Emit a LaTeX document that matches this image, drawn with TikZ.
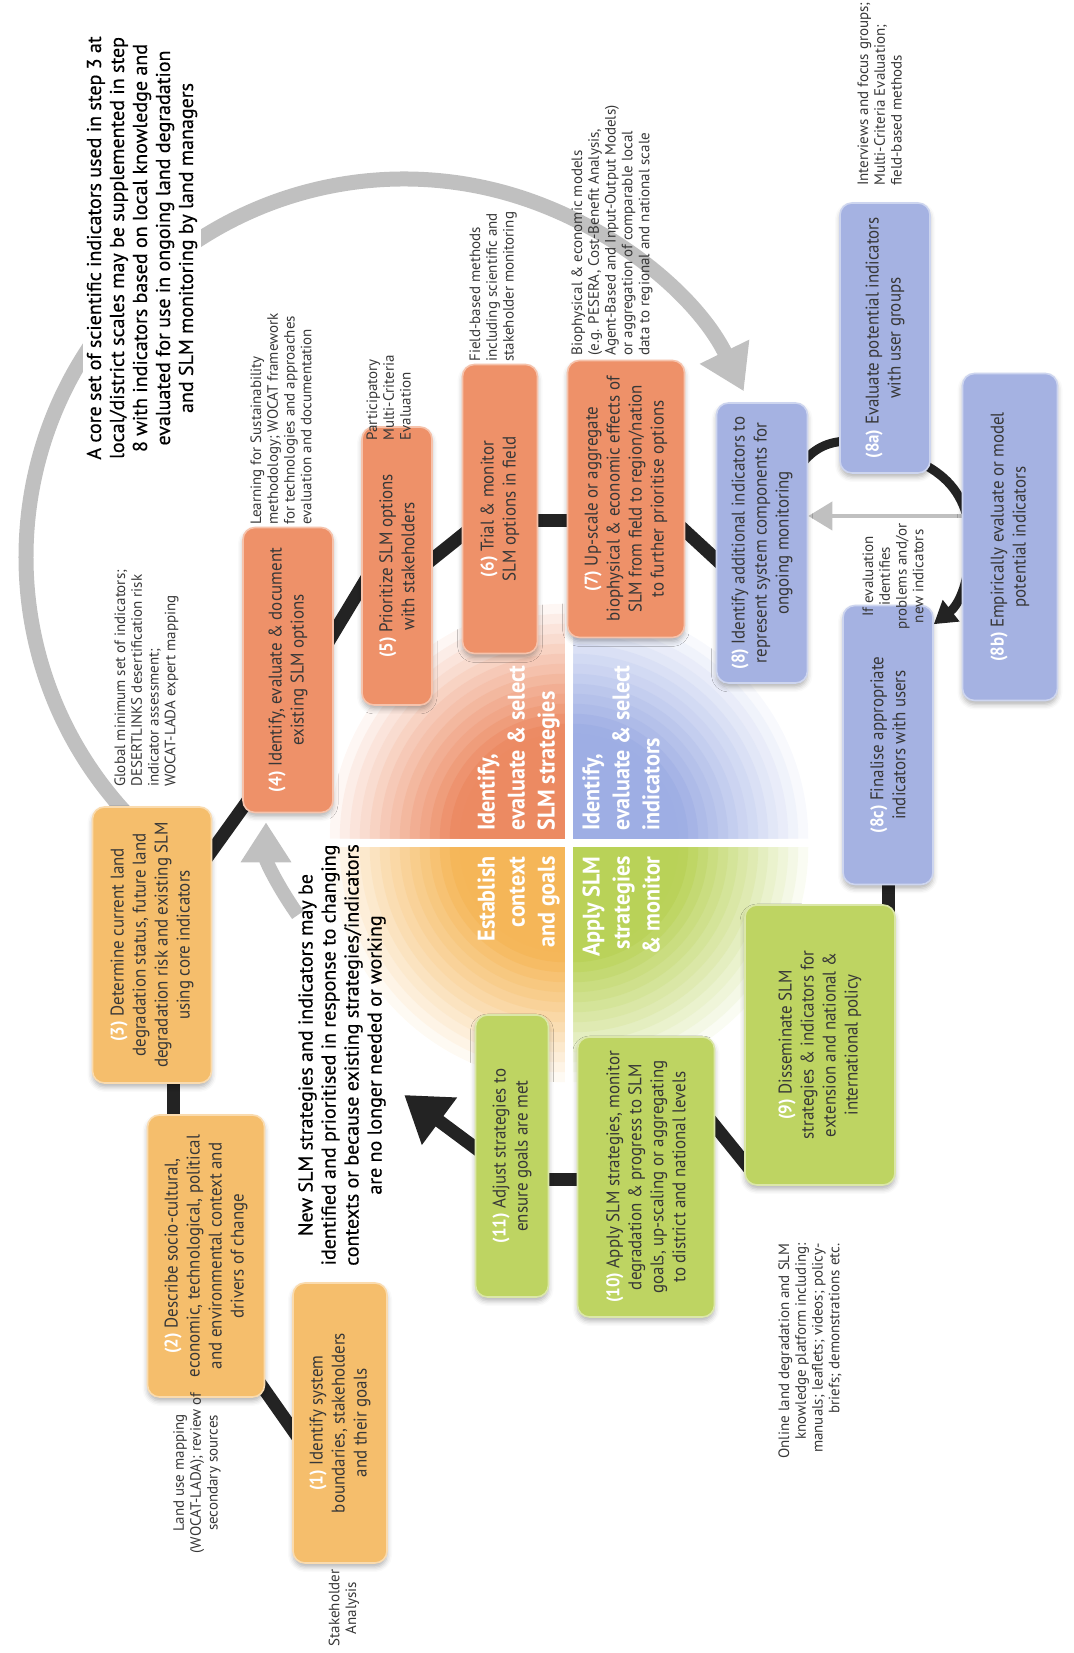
\documentclass[tikz,border=0pt]{standalone}
\usepackage{fontspec}
\setmainfont[FakeStretch=0.92]{PT Sans}
\newfontfamily\notefamily{PT Sans}
\newfontfamily\leadfamily[FakeBold=0.4]{PT Sans}
\usepackage{tikz}
\usetikzlibrary{calc, arrows.meta, backgrounds, shadows.blur}

\definecolor{boxorange}{RGB}{245,190,108}
\definecolor{boxsalmon}{RGB}{238,145,105}
\definecolor{boxblue}{RGB}{165,178,226}
\definecolor{boxgreen}{RGB}{190,212,98}
\definecolor{qorange}{RGB}{245,182,88}
\definecolor{qsalmon}{RGB}{236,138,98}
\definecolor{qblue}{RGB}{158,174,228}
\definecolor{qgreen}{RGB}{185,210,88}
\definecolor{ringblack}{RGB}{35,35,35}
\definecolor{arcgray}{RGB}{192,192,192}
\definecolor{txtgray}{RGB}{55,55,55}

\newcommand{\stepfont}{\fontsize{9.2}{11}\selectfont}
\newcommand{\notesize}{\notefamily\fontsize{7.5}{8.4}\selectfont}
\newcommand{\leadfont}{\leadfamily\fontsize{10}{11.5}\selectfont}
\newcommand{\quadlabelfont}{\fontsize{12}{15}\selectfont\bfseries}
\newcommand{\stepno}[1]{\textcolor{white}{\bfseries(#1)}}

\tikzset{
  stepbox/.style={rectangle, rounded corners=6pt, align=center, inner sep=3pt,
    font=\stepfont, text=txtgray, line width=0.8pt,
    blur shadow={shadow xshift=0pt, shadow yshift=-2pt, shadow blur radius=2.5pt, shadow opacity=30}},
  orangestep/.style={stepbox, fill=boxorange, draw=boxorange!55!white},
  salmonstep/.style={stepbox, fill=boxsalmon, draw=boxsalmon!55!white},
  bluestep/.style={stepbox, fill=boxblue, draw=boxblue!55!white},
  greenstep/.style={stepbox, fill=boxgreen, draw=boxgreen!55!white},
  boxsize/.style 2 args={minimum width=#1pt, minimum height=#2pt},
  note/.style={font=\notesize, text=txtgray, inner sep=0pt},
  leadtext/.style={font=\leadfont, text=black, align=center, inner sep=2pt},
  quadtext/.style={font=\quadlabelfont, text=white, inner sep=0pt},
  ring/.style={draw=ringblack, line width=6.5pt},
  loopring/.style={draw=ringblack, line width=4.5pt},
  bigarc/.style={draw=arcgray, line width=7.5pt, -{Triangle[length=22pt, width=26pt]}},
  grayarrow/.style={draw=arcgray, line width=7pt, -{Triangle[length=20pt, width=24pt]}},
  thinarrow/.style={draw=arcgray, line width=2pt, -{Triangle[length=12pt, width=14pt]}},
}

\begin{document}
\begin{tikzpicture}[x=0.5pt, y=0.5pt, rotate=90, transform shape]
\useasboundingbox (0,-1074) rectangle (1653,0);
\coordinate (hub) at (810,-569);
\coordinate (arcmid) at (1096,-404);

%%%% four quarters in the middle, fading out to white
\foreach \a/\qc in {90/qorange,0/qsalmon,-90/qblue,180/qgreen} {
  \foreach \r in {235,225,...,5} {
    \pgfmathtruncatemacro\pct{min(100,(245-\r)/1.3)}
    \fill[color=\qc!\pct!white] (hub) ++({\a+45}:6) -- ++(\a:\r) arc[start angle=\a, delta angle=90, radius=\r] -- cycle;
  }
}
\node[quadtext, align=right, anchor=south east] (qgoals) at (797,-560) {Establish\\ context\\ and goals};
\node[quadtext, align=left, anchor=south west] (qstrat) at (822,-560) {Identify,\\ evaluate \& select\\ SLM strategies};
\node[quadtext, align=left, anchor=north west] (qind) at (822,-582) {Identify,\\ evaluate \& select\\ indicators};
\node[quadtext, align=right, anchor=north east] (qapply) at (797,-582) {Apply SLM\\ strategies\\ \& monitor};

%%%% steps 1-3
\node[orangestep, boxsize={140}{47}] (b1) at (230,-340) {\stepno{1} Identify system\\ boundaries, stakeholders\\ and their goals};
\node[orangestep, boxsize={141}{58.5}] (b2) at (397,-206) {\stepno{2} Describe socio-cultural,\\ economic, technological, political\\ and environmental context and\\ drivers of change};
\node[orangestep, boxsize={138}{59.5}] (b3) at (708,-152) {\stepno{3} Determine current land\\ degradation status, future land\\ degradation risk and existing SLM\\ using core indicators};
%%%% steps 4-7
\node[salmonstep, boxsize={142.5}{45}] (b4) at (983,-288) {\stepno{4} Identify, evaluate \& document\\ existing SLM options};
\node[salmonstep, boxsize={139}{35}] (b5) at (1087,-397) {\stepno{5} Prioritize SLM options\\ with stakeholders};
\node[salmonstep, boxsize={144.5}{37.5}] (b6) at (1144,-500) {\stepno{6} Trial \& monitor\\ SLM options in field};
\node[salmonstep, boxsize={138.5}{58.5}] (b7) at (1154,-626) {\stepno{7} Up-scale or aggregate\\ biophysical \& economic effects of\\ SLM from field to region/nation\\ to further prioritise options};
%%%% step 8 and its loop
\node[bluestep, boxsize={140}{45.5}] (b8) at (1110,-762) {\stepno{8} Identify additional indicators to\\ represent system components for\\ ongoing monitoring};
\node[bluestep, boxsize={135}{45}] (b8a) at (1315,-885) {\stepno{8a} Evaluate potential indicators\\ with user groups};
\node[bluestep, boxsize={163.5}{47.5}] (b8b) at (1116,-1010) {\stepno{8b} Empirically evaluate or model\\ potential indicators};
\node[bluestep, boxsize={139.5}{45}] (b8c) at (908,-888) {\stepno{8c} Finalise appropriate\\ indicators with users};
%%%% steps 9-11
\node[greenstep, boxsize={140}{75}] (b9) at (608,-820) {\stepno{9} Disseminate SLM\\ strategies \& indicators for\\ extension and national \&\\ international policy};
\node[greenstep, boxsize={140}{68.5}] (b10) at (476,-646) {\stepno{10} Apply SLM strategies, monitor\\ degradation \& progress to SLM\\ goals, up-scaling or aggregating\\ to district and national levels};
\node[greenstep, boxsize={141}{36.5}] (b11) at (497,-512) {\stepno{11} Adjust strategies to\\ ensure goals are met};

%%%% big texts
\node[leadtext, fill=white] (corenote) at (1405,-142) {A core set of scientific indicators used in step 3 at\\ local/district scales may be supplemented in step\\ 8 with indicators based on local knowledge and\\ evaluated for use in ongoing land degradation\\ and SLM monitoring by land managers};
\node[leadtext] (newslm) at (598,-342) {New SLM strategies and indicators may be\\ identified and prioritised in response to changing\\ contexts or because existing strategies/indicators\\ are no longer needed or working};

%%%% methods next to the steps
\node[note, align=center] (stakenote) at (45,-344) {Stakeholder\\ Analysis};
\node[note, align=center] (landnote) at (180,-197) {Land use mapping\\ (WOCAT-LADA); review of\\ secondary sources};
\node[note, align=left, anchor=north west] (globalnote) at (866,-114) {Global minimum set of indicators;\\ DESERTLINKS desertification risk\\ indicator assessment;\\ WOCAT-LADA expert mapping};
\node[note, align=left, anchor=north west] (learnnote) at (1128,-250) {Learning for Sustainability\\ methodology; WOCAT framework\\ for technologies and approaches\\ evaluation and documentation};
\node[note, align=left, anchor=north west] (partnote) at (1212,-366) {Participatory\\ Multi-Criteria\\ Evaluation};
\node[note, align=left, anchor=north west] (fieldnote) at (1291,-469) {Field-based methods\\ including scientific and\\ stakeholder monitoring};
\node[note, align=left, anchor=north west] (bionote) at (1297,-571) {Biophysical \& economic models\\ (e.g. PESERA, Cost-Benefit Analysis,\\ Agent-Based and Input-Output Models)\\ or aggregation of comparable local\\ data to regional and national scale};
\node[note, align=left, anchor=north west] (usernote) at (1467,-857) {Interviews and focus groups;\\ Multi-Criteria Evaluation;\\ field-based methods};
\node[note, align=right, anchor=north east] (onlinenote) at (410,-778) {Online land degradation and SLM\\ knowledge platform including:\\ manuals; leaflets; videos; policy-\\ briefs; demonstrations etc.};
\node[note, align=center, anchor=east] (ifnote) at (1130,-893) {If evaluation\\ identifies\\ problems and/or\\ new indicators};

%%%% ring between the steps
\begin{scope}[on background layer]
\draw[ring] ($(b1.north)+(-19,-9)$) -- ($(b2.south west)+(19,8.5)$);
\draw[ring] ($(b2.east)+(-13,33)$) -- ($(b3.west)+(15,-21)$);
\draw[ring] ($(b3.south)+(83,8.5)$) -- ($(b4.north west)+(21.5,-12)$);
\draw[ring] ($(b4.south)+(24,8)$) -- ($(b5.north)+(-8,-8)$);
\draw[ring] ($(b5.south)+(0,9)$) -- ($(b6.north)+(-19,-9.5)$);
\draw[ring] ($(b6.south)+(-12,7.5)$) -- ($(b7.north)+(-22,-7.5)$);
\draw[ring] ($(b7.south)+(-26,6.5)$) -- ($(b8.north)+(-23,-7.5)$);
\draw[ring] ($(b9.east)+(-10,-68)$) -- ($(b8c.west)+(11.5,0)$);
\draw[ring] ($(b10.south)+(60,7.5)$) -- ($(b9.north west)+(15,-7)$);
\draw[ring] ($(b10.north)+(-3,-8.5)$) -- ($(b11.south)+(-24,8.5)$);
\draw[ring, -{Triangle[length=22pt, width=28pt]}] ($(b11.north)+(3,-7.5)$) -- ($(b11.north)+(61,70.5)$);
%%%% small loop of the indicators
\draw[loopring] ($(b8.south)+(78,7.5)$) to[bend left=25] ($(b8a.north)+(-103,-8)$);
\draw[loopring] ($(b8a.south west)+(10,8)$) to[bend left=25] ($(b8b.north)+(12,-7.5)$);
\draw[loopring, -{Triangle[length=11pt, width=13pt]}] ($(b8b.north)+(-18,-7.5)$) to[bend left=25] ($(b8c.south east)+(-19.5,0)$);
%%%% gray feedback arrows
\draw[bigarc] (arcmid) ++(133:378) arc[start angle=133, end angle=-64, radius=378];
\draw[grayarrow] ($(newslm.north)+(140,-4)$) to[out=35, in=180] ($(b4.west)+(-9,22)$);
\draw[thinarrow] ($(b8b.north)+(21,0)$) -- ($(b8.south)+(27,0)$);
\end{scope}
\end{tikzpicture}
\end{document}
